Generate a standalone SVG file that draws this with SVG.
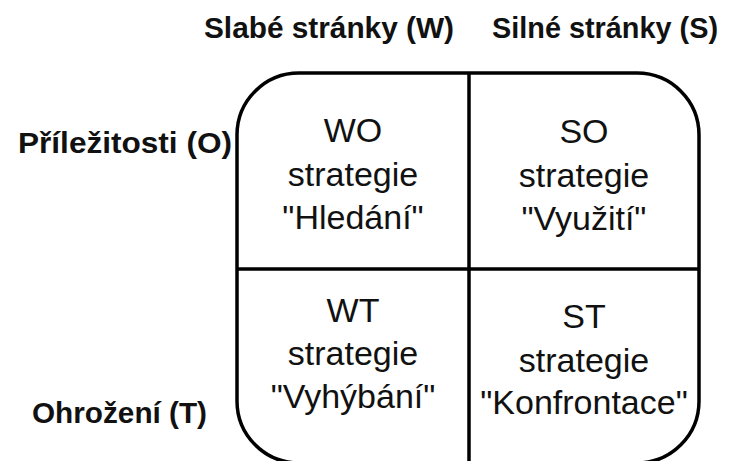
<svg xmlns="http://www.w3.org/2000/svg" width="731" height="461" viewBox="0 0 731 461">
<style>
.h{font-family:"Liberation Sans",Arial,sans-serif;font-weight:bold;font-size:29px;fill:#111}
.q{font-family:"Liberation Sans",Arial,sans-serif;font-size:34px;fill:#111;text-anchor:middle}
.ln{fill:none;stroke:#000;stroke-width:3.5}
</style>
<rect width="731" height="461" fill="#fff"/>
<g id="headers">
<text class="h" x="204" y="38" textLength="250" lengthAdjust="spacingAndGlyphs">Slabé stránky (W)</text>
<text class="h" x="492" y="38" textLength="226" lengthAdjust="spacingAndGlyphs">Silné stránky (S)</text>
<text class="h" x="18" y="153" textLength="214" lengthAdjust="spacingAndGlyphs">Příležitosti (O)</text>
<text class="h" x="32" y="423" textLength="175" lengthAdjust="spacingAndGlyphs">Ohrožení (T)</text>
</g>
<g id="frame">
<path class="ln" d="M299,73 H637 A62,62 0 0 1 699,135 V401 A62,62 0 0 1 637,463 H299 A62,62 0 0 1 237,401 V135 A62,62 0 0 1 299,73 Z"/>
</g>
<g id="connectors">
<line class="ln" x1="469" y1="73" x2="469" y2="463"/>
<line class="ln" x1="237" y1="269" x2="699" y2="269"/>
</g>
<g id="WO">
<text class="q" x="353" y="142">WO</text>
<text class="q" x="353" y="186">strategie</text>
<text class="q" x="353" y="229">"Hledání"</text>
</g>
<g id="SO">
<text class="q" x="584" y="143">SO</text>
<text class="q" x="584" y="187">strategie</text>
<text class="q" x="584" y="230">"Využití"</text>
</g>
<g id="WT">
<text class="q" x="353" y="322">WT</text>
<text class="q" x="353" y="365">strategie</text>
<text class="q" x="353" y="408">"Vyhýbání"</text>
</g>
<g id="ST">
<text class="q" x="584" y="328">ST</text>
<text class="q" x="584" y="372">strategie</text>
<text class="q" x="584" y="414">"Konfrontace"</text>
</g>
</svg>
